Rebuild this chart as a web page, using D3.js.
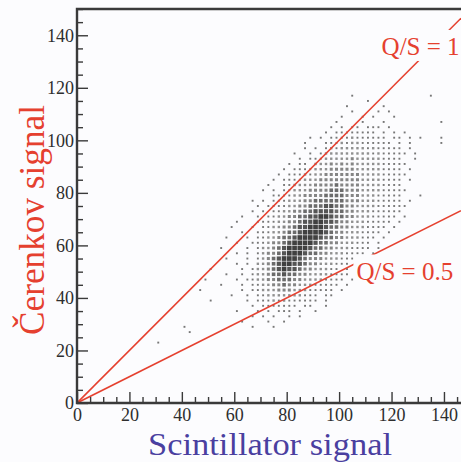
<!DOCTYPE html>
<html><head><meta charset="utf-8">
<script src="https://cdn.jsdelivr.net/npm/d3@7"></script>
<style>body{margin:0;background:#fcfcfe}svg{display:block}</style>
</head><body>
<svg id="c" width="461" height="462"></svg>
<script>
// ---------------- data ----------------
const xTicks = [0, 20, 40, 60, 80, 100, 120, 140];
const yTicks = [0, 20, 40, 60, 80, 100, 120, 140];
const minorStep = 5;
const xMax = 146.5, yMax = 150;
const binSize = 2;        // bin width (both axes)
const binX0 = 30;         // lower edge of first column
const binYTop = 116;      // lower edge of first (top) row
// density level per bin (. = empty, 1..6 = increasing count), rows from Y=116 down to Y=22
const densityRows = [
".......... .......... .......... .......1.. .......... ..1...",
".......... .......... .......... .......... 1......... ......",
".......... .......... .......... ......1... ...1...... ......",
".......... .......... .......... .......1.. ..1.1..... ......",
".......... .......... .......... .....1...1 .1...1.... ......",
".......... .......... .......... ....1....1 ...1...... ....1.",
".......... .......... .......... ...1.1.11. 111.1..... ......",
".......... .......... .......... ..1.111111 11.1.1.1.. ......",
".......... .......... .........1 .1.1111211 1111.11.1. 1...1.",
".......... .......... ........1. ..11121221 11111.1.1. ....1.",
".......... .......... ........1. 1.12122222 1211111.1. ......",
".......... .......... ......1..1 .122222222 21211111.1 ......",
".......... .......... .......1.1 1122222322 2221111..1 ......",
".......... .......... .....1.11. 2223232322 22211111.. ......",
".......... .......... ....1.1111 2223333322 2221111.1. ......",
".......... .......... ...1.11121 2233333332 22211111.. ......",
".......... .......... ..1.111122 2333333332 2221111.1. ......",
".......... .......... .1..112222 3333433332 2221111... ......",
".......... .......... 1.1.112223 3334443332 22211111.. ......",
".......... .......... ..11112233 3344443332 2211111... 1.....",
".......... ........1. 1.11122233 4444443332 2211111.1. ......",
".......... .........1 .111122334 4455443322 22111111.. ......",
".......... ........1. 1.11223344 5555443322 2111111... ......",
".......... ......1..1 .112233445 5665443322 211111.1.. ......",
".......... .....1...1 1112233455 6655433222 11111.1... ......",
".......... ....1...1. 1122334556 6654433222 1111.1.... ......",
".......... ......1..1 1122344566 6654332221 111.1..... ......",
".......... ...1...1.1 1223445666 6544332221 11.1...... ......",
".......... .....1..11 1233456666 5443322211 1.1....... ......",
".......... ..1....1.1 2234566665 4433222111 1.1....... ......",
".......... .....1.1.1 2334566654 4332221111 .1........ ......",
".......... ...1...1.1 2345666543 3322211111 .......... ......",
".......... .....1.1.2 2345665543 3222111.1. .......... ......",
".......... 1.....1.12 2345655433 22211.1.1. .......... ......",
".......... ...1..1.12 2344544332 2221111.1. .......... ......",
".........1 .....1.112 2334443322 221111.1.. .......... ......",
".......... ..1...1.11 2233433222 11111.1... .......... ......",
"........1. ......1.11 2223332221 1111.1.... .......... ......",
".......... ....1..1.1 1222222211 1.11...... .......... ......",
".......... 1......1.1 1121211111 1.1....... .......... ......",
".......... ........1. 1111111.11 ..1....... .......... ......",
".......... .....1...1 .1.111.1.. 1......... .......... ......",
".......... ........1. 1.1..1.1.. .......... .......... ......",
".......... ......1... .1..1..... .......... .......... ......",
".....1.... ........1. ..1....... .......... .......... ......",
"......1... .......... .......... .......... .......... ......",
".......... .......... .......... .......... .......... ......",
"1......... .......... .......... .......... .......... ......"
];
const ratioValues = [1, 0.5];
const ratioLabels = ["Q/S = 1", "Q/S = 0.5"];
const xTitle = "Scintillator signal";
const yTitle = "Čerenkov signal";

// ---------------- layout / style ----------------
const W = 461, H = 462;
const L = 77, T = 9, R = 461, B = 403;
const red = "#e5402f", axisCol = "#3a3a3a", bg = "#fcfcfe";
const serif = "'Liberation Serif','Times New Roman',serif";
const levelSize = [0, 1.9, 2.4, 3.0, 3.6, 4.2, 4.7];
const levelFill = ["none", "#777777", "#909090", "#858585", "#6c6c6c", "#555555", "#404040"];
const labelPos = [{x: 116.2, y: 132.5}, {x: 106.6, y: 47}];

const svg = d3.select("#c");
svg.append("rect").attr("width", W).attr("height", H).attr("fill", bg);

const x = d3.scaleLinear().domain([0, xMax]).range([L, R]);
const y = d3.scaleLinear().domain([0, yMax]).range([B, T]);

svg.append("defs").append("clipPath").attr("id", "plot")
  .append("rect").attr("x", L).attr("y", T).attr("width", R - L).attr("height", B - T);

// scatter cells
const cells = [];
densityRows.forEach((row, r) => {
  const s = row.replace(/ /g, "");
  for (let i = 0; i < s.length; i++) {
    const c = s[i];
    if (c !== ".") cells.push({X: binX0 + i * binSize + binSize / 2,
                               Y: binYTop - r * binSize + binSize / 2, lv: +c});
  }
});
svg.append("g").attr("clip-path", "url(#plot)")
  .selectAll("rect").data(cells).join("rect")
  .attr("x", d => x(d.X) - levelSize[d.lv] / 2)
  .attr("y", d => y(d.Y) - levelSize[d.lv] / 2)
  .attr("width", d => levelSize[d.lv])
  .attr("height", d => levelSize[d.lv])
  .attr("fill", d => levelFill[d.lv]);

// ratio lines
const lg = svg.append("g").attr("clip-path", "url(#plot)");
ratioValues.forEach(r => {
  lg.append("line")
    .attr("x1", x(0)).attr("y1", y(0))
    .attr("x2", x(xMax)).attr("y2", y(xMax * r))
    .attr("stroke", red).attr("stroke-width", 1.6);
});
// labels with background gap
ratioLabels.forEach((t, k) => {
  const g = svg.append("g");
  const txt = g.append("text").attr("x", x(labelPos[k].x)).attr("y", y(labelPos[k].y))
    .attr("font-family", serif).attr("font-size", 25).attr("fill", red).text(t);
  const bb = txt.node().getBBox();
  g.insert("rect", "text").attr("x", bb.x - 3).attr("y", bb.y - 3)
    .attr("width", bb.width + 6).attr("height", bb.height + 4).attr("fill", bg);
});

// axes
const minorX = d3.range(0, xMax, minorStep).filter(v => v % 20 !== 0);
const minorY = d3.range(0, yMax + 0.01, minorStep).filter(v => v % 20 !== 0);

function styleAxis(g) {
  g.select(".domain").remove();
  g.selectAll("line").attr("stroke", axisCol).attr("stroke-width", 1.4);
  g.selectAll("text").attr("font-family", serif).attr("font-size", 18).attr("fill", "#2e2e2e");
}
svg.append("g").attr("transform", `translate(0,${B})`)
  .call(d3.axisBottom(x).tickValues(xTicks).tickSize(-11).tickPadding(5).tickFormat(d3.format("d")))
  .call(styleAxis);
svg.append("g").attr("transform", `translate(0,${B})`)
  .call(d3.axisBottom(x).tickValues(minorX).tickSize(-6).tickFormat(""))
  .call(styleAxis);
svg.append("g").attr("transform", `translate(${L},0)`)
  .call(d3.axisLeft(y).tickValues(yTicks).tickSize(-11).tickPadding(3).tickFormat(d3.format("d")))
  .call(styleAxis);
svg.append("g").attr("transform", `translate(${L},0)`)
  .call(d3.axisLeft(y).tickValues(minorY).tickSize(-6).tickFormat(""))
  .call(styleAxis);

// frame
svg.append("path")
  .attr("d", `M${R},${T}H${L}V${B}H${R}`)
  .attr("fill", "none").attr("stroke", axisCol).attr("stroke-width", 2.4);

// titles
svg.append("text").attr("x", 270).attr("y", 455).attr("text-anchor", "middle")
  .attr("font-family", serif).attr("font-size", 32).attr("fill", "#4a3fa0")
  .attr("textLength", 244).attr("lengthAdjust", "spacingAndGlyphs").text(xTitle);
svg.append("text").attr("transform", "translate(44,220) rotate(-90)").attr("text-anchor", "middle")
  .attr("font-family", serif).attr("font-size", 35).attr("fill", red)
  .attr("textLength", 230).attr("lengthAdjust", "spacingAndGlyphs").text(yTitle);
</script>
</body></html>
